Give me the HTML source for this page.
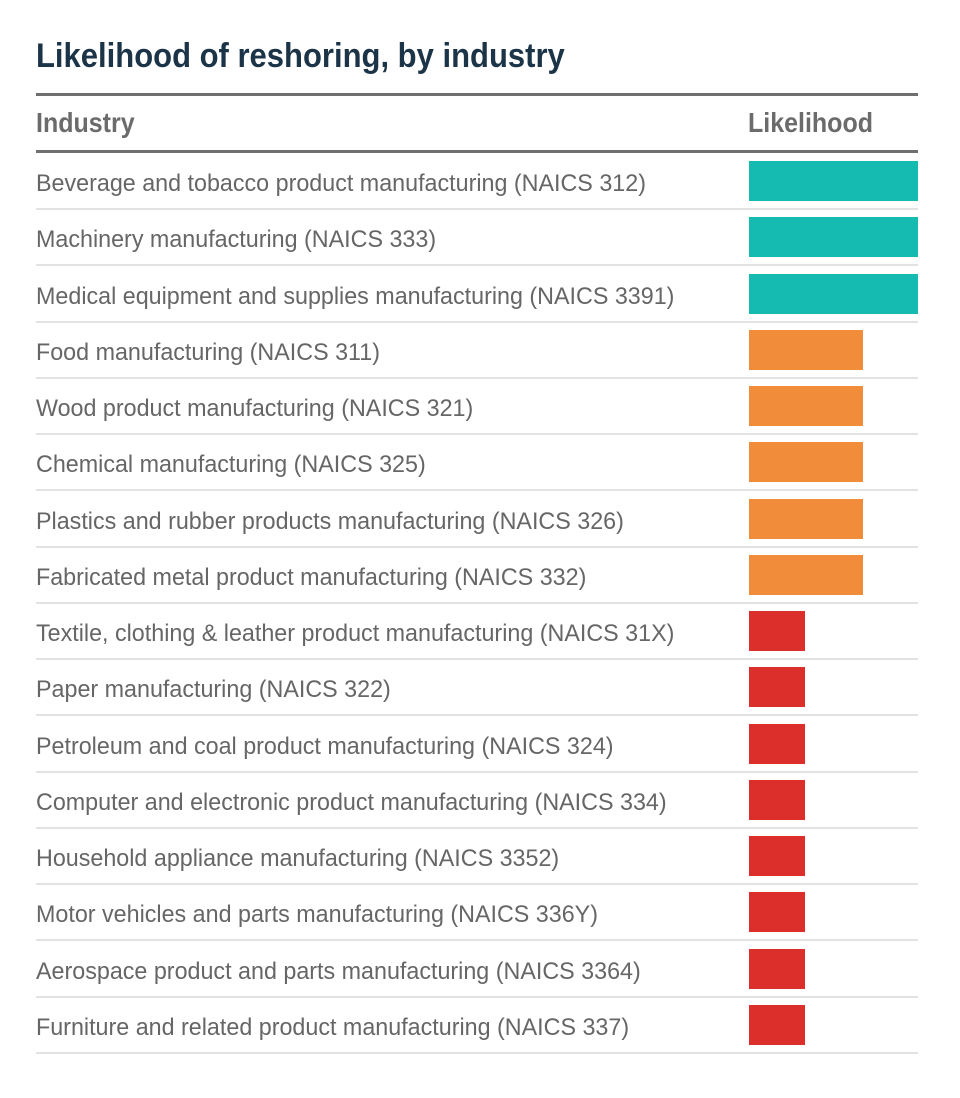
<!DOCTYPE html>
<html>
<head>
<meta charset="utf-8">
<style>
  html, body { margin:0; padding:0; background:#fff; }
  body { width:960px; height:1098px; position:relative; overflow:hidden; font-family:"Liberation Sans", Arial, sans-serif; }
  .title { position:absolute; left:36px; top:41px; font-size:31px; line-height:31px; font-weight:bold; color:#1c3448; white-space:nowrap; transform:scaleY(1.12); transform-origin:0 26px; }
  .rule { position:absolute; left:36px; width:882px; height:3px; background:#6f6f6f; }
  .hdr { position:absolute; top:112px; font-size:25px; line-height:25px; font-weight:bold; color:#6b6b6b; white-space:nowrap; transform:scaleY(1.1); transform-origin:0 21px; }
  .rows { position:absolute; left:36px; top:153px; width:882px; }
  .row { position:relative; height:56.267px; }
  .row .t { position:absolute; left:0; top:18px; font-size:23.3px; line-height:24px; color:#666; white-space:nowrap; transform:scaleY(1.03); transform-origin:0 20px; }
  .row .b { position:absolute; left:713px; top:8px; height:40px; }
  .row .s { position:absolute; left:0; top:55px; width:882px; height:2px; background:#e2e2e2; }
  .hi { width:169px; background:#15bab0; }
  .md { width:114px; background:#f08c3a; }
  .lo { width:56px; background:#dc2e2a; }
</style>
</head>
<body>
  <div class="title">Likelihood of reshoring, by industry</div>
  <div class="rule" style="top:93px;"></div>
  <div class="hdr" style="left:36px;">Industry</div>
  <div class="hdr" style="left:748px;">Likelihood</div>
  <div class="rule" style="top:150px;"></div>
  <div class="rows">
    <div class="row"><div class="t">Beverage and tobacco product manufacturing (NAICS 312)</div><div class="b hi"></div><div class="s"></div></div>
    <div class="row"><div class="t">Machinery manufacturing (NAICS 333)</div><div class="b hi"></div><div class="s"></div></div>
    <div class="row"><div class="t">Medical equipment and supplies manufacturing (NAICS 3391)</div><div class="b hi"></div><div class="s"></div></div>
    <div class="row"><div class="t">Food manufacturing (NAICS 311)</div><div class="b md"></div><div class="s"></div></div>
    <div class="row"><div class="t">Wood product manufacturing (NAICS 321)</div><div class="b md"></div><div class="s"></div></div>
    <div class="row"><div class="t">Chemical manufacturing (NAICS 325)</div><div class="b md"></div><div class="s"></div></div>
    <div class="row"><div class="t">Plastics and rubber products manufacturing (NAICS 326)</div><div class="b md"></div><div class="s"></div></div>
    <div class="row"><div class="t">Fabricated metal product manufacturing (NAICS 332)</div><div class="b md"></div><div class="s"></div></div>
    <div class="row"><div class="t">Textile, clothing &amp; leather product manufacturing (NAICS 31X)</div><div class="b lo"></div><div class="s"></div></div>
    <div class="row"><div class="t">Paper manufacturing (NAICS 322)</div><div class="b lo"></div><div class="s"></div></div>
    <div class="row"><div class="t">Petroleum and coal product manufacturing (NAICS 324)</div><div class="b lo"></div><div class="s"></div></div>
    <div class="row"><div class="t">Computer and electronic product manufacturing (NAICS 334)</div><div class="b lo"></div><div class="s"></div></div>
    <div class="row"><div class="t">Household appliance manufacturing (NAICS 3352)</div><div class="b lo"></div><div class="s"></div></div>
    <div class="row"><div class="t">Motor vehicles and parts manufacturing (NAICS 336Y)</div><div class="b lo"></div><div class="s"></div></div>
    <div class="row"><div class="t">Aerospace product and parts manufacturing (NAICS 3364)</div><div class="b lo"></div><div class="s"></div></div>
    <div class="row"><div class="t">Furniture and related product manufacturing (NAICS 337)</div><div class="b lo"></div><div class="s"></div></div>
  </div>
</body>
</html>
